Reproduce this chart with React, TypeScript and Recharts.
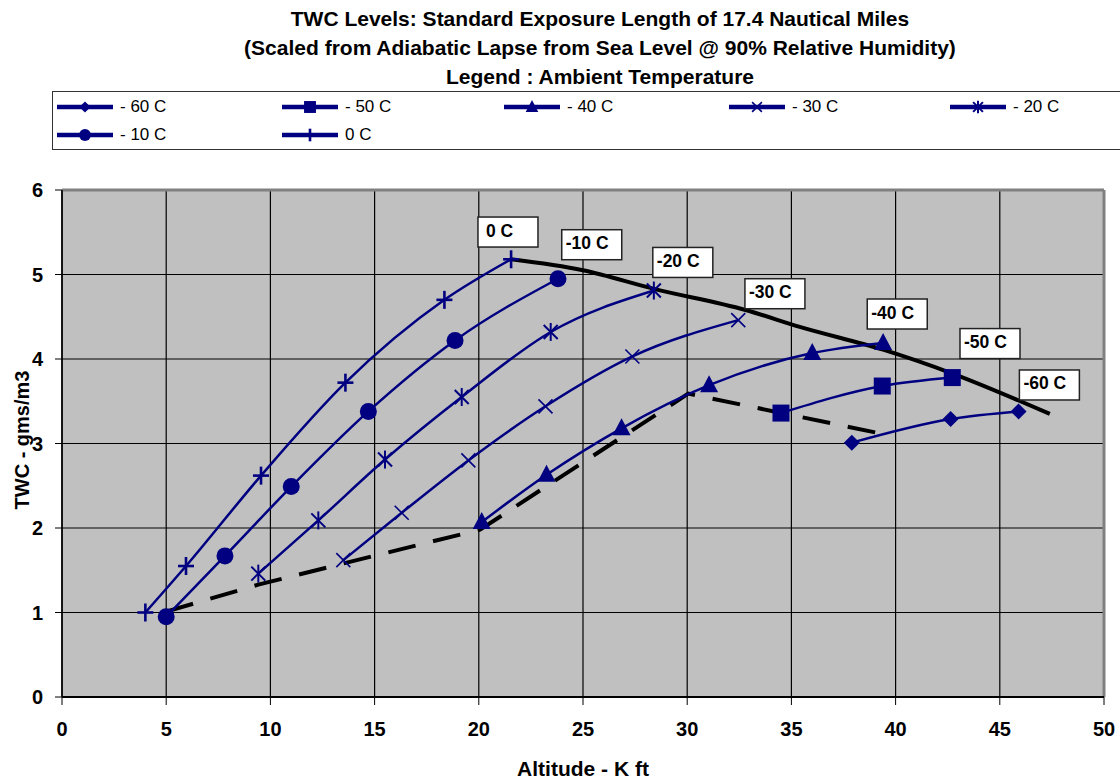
import React from 'react';
import { ComposedChart, Line, XAxis, YAxis, CartesianGrid, ReferenceLine } from 'recharts';

const NAVY = '#000080';
const FONT = '"Liberation Sans", Arial, sans-serif';

const xTicks = [0, 5, 10, 15, 20, 25, 30, 35, 40, 45, 50];
const yTicks = [0, 1, 2, 3, 4, 5, 6];

const titleLines = [
  'TWC Levels: Standard Exposure Length of 17.4 Nautical Miles',
  '(Scaled from Adiabatic Lapse from Sea Level @ 90% Relative Humidity)',
  'Legend : Ambient Temperature',
];

const seriesNames = ['- 60 C', '- 50 C', '- 40 C', '- 30 C', '- 20 C', '- 10 C', '0 C'];
const seriesMarkers = ['diamond', 'square', 'triangle', 'x', 'asterisk', 'circle', 'plus'];

const m60 = [{ x: 37.9, y: 3.01 }, { x: 42.64, y: 3.29 }, { x: 45.9, y: 3.38 }];
const m50 = [{ x: 34.5, y: 3.36 }, { x: 39.36, y: 3.68 }, { x: 42.72, y: 3.78 }];
const m40 = [
  { x: 20.14, y: 2.07 }, { x: 23.25, y: 2.63 }, { x: 26.85, y: 3.18 },
  { x: 31.05, y: 3.69 }, { x: 36.0, y: 4.07 }, { x: 39.4, y: 4.19 },
];
const m30 = [
  { x: 13.5, y: 1.62 }, { x: 16.3, y: 2.18 }, { x: 19.5, y: 2.8 },
  { x: 23.2, y: 3.44 }, { x: 27.37, y: 4.03 }, { x: 32.45, y: 4.46 },
];
const m20 = [
  { x: 9.42, y: 1.46 }, { x: 12.3, y: 2.09 }, { x: 15.5, y: 2.81 },
  { x: 19.18, y: 3.55 }, { x: 23.45, y: 4.32 }, { x: 28.4, y: 4.81 },
];
const m10 = [
  { x: 5.0, y: 0.95 }, { x: 7.82, y: 1.67 }, { x: 11.0, y: 2.49 },
  { x: 14.7, y: 3.38 }, { x: 18.86, y: 4.22 }, { x: 23.8, y: 4.95 },
];
const m0 = [
  { x: 4.0, y: 1.0 }, { x: 5.95, y: 1.55 }, { x: 9.55, y: 2.62 },
  { x: 13.6, y: 3.72 }, { x: 18.35, y: 4.7 }, { x: 21.55, y: 5.18 },
];

const envelope = [
  { x: 21.55, y: 5.18 }, { x: 25.0, y: 5.05 }, { x: 28.4, y: 4.83 }, { x: 32.8, y: 4.58 },
  { x: 35.4, y: 4.38 }, { x: 39.4, y: 4.11 }, { x: 42.7, y: 3.83 }, { x: 47.4, y: 3.35 },
];
const lowerBound = [
  { x: 5.0, y: 1.01 }, { x: 9.42, y: 1.33 }, { x: 13.5, y: 1.58 },
  { x: 20.06, y: 1.98 }, { x: 30.05, y: 3.59 }, { x: 39.25, y: 3.12 },
];

const labelTexts = ['0 C', '-10 C', '-20 C', '-30 C', '-40 C', '-50 C', '-60 C'];
const labelAnchors = [
  { x: 19.96, y: 5.68 }, { x: 23.98, y: 5.53 }, { x: 28.35, y: 5.32 }, { x: 32.77, y: 4.95 },
  { x: 38.64, y: 4.71 }, { x: 43.09, y: 4.36 }, { x: 45.94, y: 3.87 },
];
const labelData = labelAnchors.map((a, i) => ({ ...a, text: labelTexts[i] }));

const seriesData = [m60, m50, m40, m30, m20, m10, m0];

function Marker({ kind, cx, cy, scale = 1 }: { kind: string; cx: number; cy: number; scale?: number }) {
  const s = scale;
  switch (kind) {
    case 'diamond':
      return <polygon points={`${cx},${cy - 8 * s} ${cx + 8 * s},${cy} ${cx},${cy + 8 * s} ${cx - 8 * s},${cy}`} fill={NAVY} />;
    case 'square':
      return <rect x={cx - 8.5 * s} y={cy - 8.5 * s} width={17 * s} height={17 * s} fill={NAVY} />;
    case 'triangle':
      return <polygon points={`${cx},${cy - 10 * s} ${cx + 9 * s},${cy + 7 * s} ${cx - 9 * s},${cy + 7 * s}`} fill={NAVY} />;
    case 'x':
      return (
        <g stroke={NAVY} strokeWidth={1.6}>
          <line x1={cx - 7 * s} y1={cy - 7 * s} x2={cx + 7 * s} y2={cy + 7 * s} />
          <line x1={cx - 7 * s} y1={cy + 7 * s} x2={cx + 7 * s} y2={cy - 7 * s} />
        </g>
      );
    case 'asterisk':
      return (
        <g stroke={NAVY} strokeWidth={2}>
          <line x1={cx - 7 * s} y1={cy - 7 * s} x2={cx + 7 * s} y2={cy + 7 * s} />
          <line x1={cx - 7 * s} y1={cy + 7 * s} x2={cx + 7 * s} y2={cy - 7 * s} />
          <line x1={cx} y1={cy - 9 * s} x2={cx} y2={cy + 9 * s} />
        </g>
      );
    case 'circle':
      return <circle cx={cx} cy={cy} r={8.5 * s} fill={NAVY} />;
    case 'plus':
    default:
      return (
        <g stroke={NAVY} strokeWidth={2.6}>
          <line x1={cx - 8 * s} y1={cy} x2={cx + 8 * s} y2={cy} />
          <line x1={cx} y1={cy - 9 * s} x2={cx} y2={cy + 9 * s} />
        </g>
      );
  }
}

const makeDot = (kind: string) => (props: any) => {
  const { cx, cy, index } = props;
  if (cx == null || cy == null) return <g key={`d-${kind}-${index}`} />;
  return (
    <g key={`d-${kind}-${index}`}>
      <Marker kind={kind} cx={cx} cy={cy} />
    </g>
  );
};

const labelDot = (props: any) => {
  const { cx, cy, index, payload } = props;
  if (cx == null || cy == null) return <g key={`l-${index}`} />;
  const pad = index === 0 ? 8 : 4;
  return (
    <g key={`l-${index}`}>
      <rect x={cx} y={cy} width={60} height={30} fill="#ffffff" stroke="#222" strokeWidth={1.5} />
      <text x={cx + pad} y={cy + 19.5} fontFamily={FONT} fontWeight="bold" fontSize={17.5} fill="#000">
        {payload.text}
      </text>
    </g>
  );
};

function LegendItem({ name, kind }: { name: string; kind: string }) {
  return (
    <div style={{ display: 'flex', alignItems: 'center', height: 24 }}>
      <svg width={60} height={20} style={{ display: 'block' }}>
        <line x1={0} y1={10} x2={56} y2={10} stroke={NAVY} strokeWidth={4.5} />
        <Marker kind={kind} cx={28} cy={10} scale={0.7} />
      </svg>
      <span style={{ fontFamily: FONT, fontSize: 17, color: '#000', marginLeft: 3, lineHeight: '24px' }}>{name}</span>
    </div>
  );
}

export default function App() {
  const legendCols = [57, 282, 504, 729, 950];
  return (
    <div style={{ position: 'absolute', left: 0, top: 0, width: 1120, height: 783, background: '#fff', overflow: 'hidden' }}>
      <div
        style={{
          position: 'absolute', left: 80, top: 4, width: 1040, textAlign: 'center',
          fontFamily: FONT, fontWeight: 'bold', fontSize: 21, lineHeight: '29px', color: '#000',
        }}
      >
        {titleLines.map((t) => (
          <div key={t}>{t}</div>
        ))}
      </div>
      <div
        style={{
          position: 'absolute', left: 52, top: 91, width: 1080, height: 59,
          border: '1.5px solid #333', boxSizing: 'border-box', background: '#fff',
        }}
      />
      {seriesNames.map((n, i) => (
        <div
          key={n}
          style={{ position: 'absolute', left: legendCols[i % 5], top: i < 5 ? 95 : 123 }}
        >
          <LegendItem name={n} kind={seriesMarkers[i]} />
        </div>
      ))}
      <div style={{ position: 'absolute', left: 0, top: 0 }}>
        <ComposedChart width={1120} height={783} margin={{ top: 190, right: 16, bottom: 36, left: 22 }}>
          <CartesianGrid stroke="#000" strokeWidth={1.2} fill="#c0c0c0" fillOpacity={1} />
          <XAxis
            type="number" dataKey="x" domain={[0, 50]} ticks={xTicks} interval={0} height={50}
            allowDataOverflow
            axisLine={{ stroke: '#000', strokeWidth: 2 }} tickLine={{ stroke: '#000' }} tickSize={8} tickMargin={17}
            tick={{ fill: '#000', fontFamily: FONT, fontWeight: 'bold', fontSize: 20 }}
          />
          <YAxis
            type="number" domain={[0, 6]} ticks={yTicks} interval={0} width={40}
            allowDataOverflow
            axisLine={{ stroke: '#000', strokeWidth: 1.5 }} tickLine={{ stroke: '#000' }} tickSize={7} tickMargin={12}
            tick={{ fill: '#000', fontFamily: FONT, fontWeight: 'bold', fontSize: 20 }}
          />
          <ReferenceLine y={6} stroke="#808080" strokeWidth={3} />
          <ReferenceLine x={50} stroke="#808080" strokeWidth={3} />
          <Line data={envelope} dataKey="y" type="monotone" stroke="#000" strokeWidth={4} dot={false} isAnimationActive={false} legendType="none" />
          <Line data={lowerBound} dataKey="y" type="linear" stroke="#000" strokeWidth={4} strokeDasharray="28 18" dot={false} isAnimationActive={false} legendType="none" />
          {seriesData.map((d, i) => (
            <Line
              key={seriesNames[i]}
              data={d}
              dataKey="y"
              name={seriesNames[i]}
              type="monotone"
              stroke={NAVY}
              strokeWidth={2.5}
              dot={makeDot(seriesMarkers[i])}
              activeDot={false}
              isAnimationActive={false}
            />
          ))}
          <Line data={labelData} dataKey="y" stroke="none" dot={labelDot} activeDot={false} isAnimationActive={false} legendType="none" />
        </ComposedChart>
      </div>
      <div
        style={{
          position: 'absolute', left: 22, top: 440, transform: 'translate(-50%, -50%) rotate(-90deg)',
          fontFamily: FONT, fontWeight: 'bold', fontSize: 20, whiteSpace: 'nowrap', color: '#000',
        }}
      >
        TWC - gms/m3
      </div>
      <div
        style={{
          position: 'absolute', left: 583, top: 769, transform: 'translate(-50%, -50%)',
          fontFamily: FONT, fontWeight: 'bold', fontSize: 21, whiteSpace: 'nowrap', color: '#000',
        }}
      >
        Altitude - K ft
      </div>
    </div>
  );
}
